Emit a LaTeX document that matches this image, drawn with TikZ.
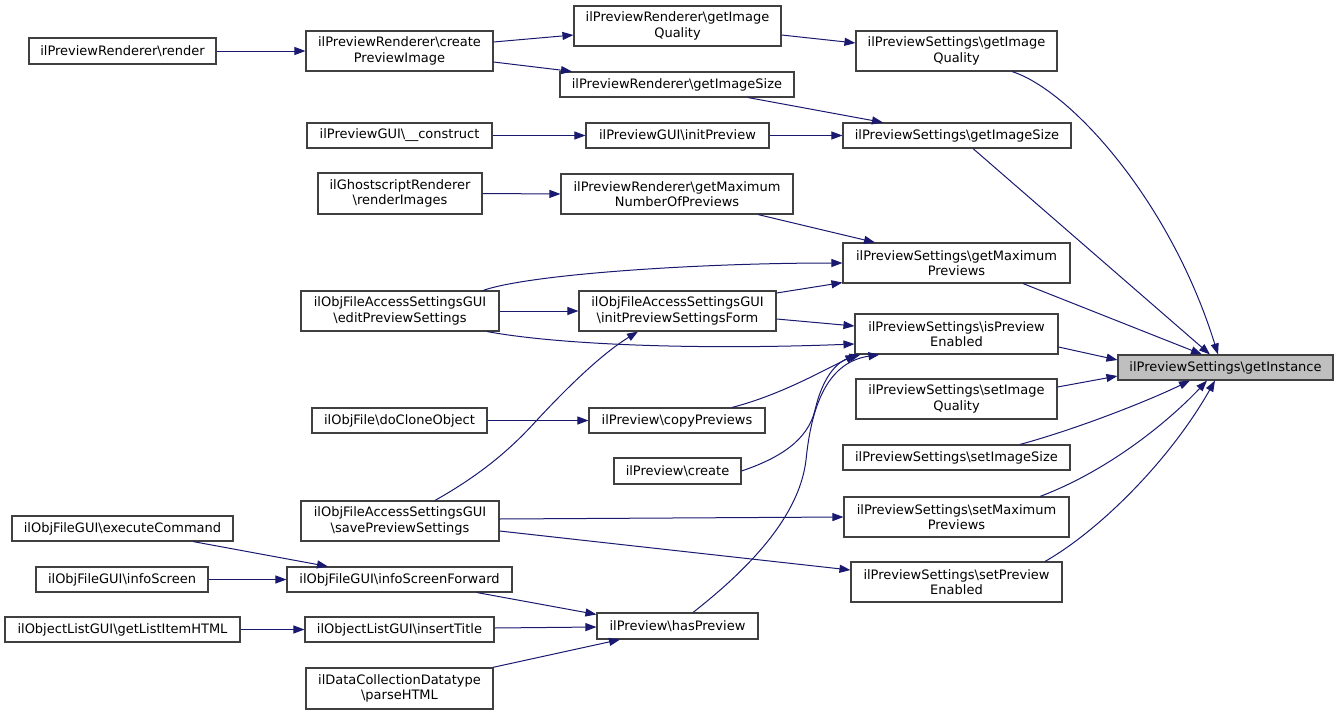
\documentclass[tikz,border=0pt]{standalone}
\usepackage{fontspec}
\setmainfont{DejaVu Sans}
\usetikzlibrary{arrows.meta}
\definecolor{edgecol}{HTML}{191970}
\definecolor{boxcol}{HTML}{404040}
\definecolor{hlfill}{HTML}{BFBFBF}
\begin{document}
\begin{tikzpicture}[x=1pt,y=-1pt,
  box/.style={draw=boxcol,line width=1.1pt,fill=white,inner sep=0pt,align=center,
    font=\fontsize{13}{15.2}\selectfont,text=black},
  hl/.style={box,fill=hlfill},
  edge/.style={draw=edgecol,line width=1pt,-{Triangle[length=11pt,width=8pt]}}]
\useasboundingbox (0,0) rectangle (1339,715);
% column 1
\node[box,minimum width=187pt,minimum height=26pt] (render) at (122.5,51) {ilPreviewRenderer\textbackslash render};
\node[box,minimum width=221pt,minimum height=25pt] (exec) at (122.5,528.5) {ilObjFileGUI\textbackslash executeCommand};
\node[box,minimum width=172pt,minimum height=25pt] (infos) at (122,579.5) {ilObjFileGUI\textbackslash infoScreen};
\node[box,minimum width=235pt,minimum height=25pt] (gli) at (122.5,629.5) {ilObjectListGUI\textbackslash getListItemHTML};
% column 2
\node[box,minimum width=187pt,minimum height=40pt] (cpi) at (399.5,51) {ilPreviewRenderer\textbackslash create\\PreviewImage};
\node[box,minimum width=185pt,minimum height=25pt] (construct) at (399.5,135.5) {ilPreviewGUI\textbackslash\_\_construct};
\node[box,minimum width=164pt,minimum height=41pt] (ghost) at (400,193.5) {ilGhostscriptRenderer\\\textbackslash renderImages};
\node[box,minimum width=198pt,minimum height=40pt] (edit) at (400,311) {ilObjFileAccessSettingsGUI\\\textbackslash editPreviewSettings};
\node[box,minimum width=175pt,minimum height=25pt] (clone) at (399.5,420.5) {ilObjFile\textbackslash doCloneObject};
\node[box,minimum width=198pt,minimum height=40pt] (save) at (400,521) {ilObjFileAccessSettingsGUI\\\textbackslash savePreviewSettings};
\node[box,minimum width=225pt,minimum height=25pt] (isf) at (399.5,579.5) {ilObjFileGUI\textbackslash infoScreenForward};
\node[box,minimum width=189pt,minimum height=25pt] (ins) at (399.5,629.5) {ilObjectListGUI\textbackslash insertTitle};
\node[box,minimum width=187pt,minimum height=41pt] (parse) at (399.5,688.5) {ilDataCollectionDatatype\\\textbackslash parseHTML};
% column 3
\node[box,minimum width=207pt,minimum height=40pt] (rgiq) at (677.5,26) {ilPreviewRenderer\textbackslash getImage\\Quality};
\node[box,minimum width=234pt,minimum height=25pt] (rgis) at (677,84.5) {ilPreviewRenderer\textbackslash getImageSize};
\node[box,minimum width=183pt,minimum height=25pt] (initprev) at (677.5,135.5) {ilPreviewGUI\textbackslash initPreview};
\node[box,minimum width=232pt,minimum height=40pt] (rgmax) at (677,194) {ilPreviewRenderer\textbackslash getMaximum\\NumberOfPreviews};
\node[box,minimum width=197pt,minimum height=40pt] (initform) at (677.5,311) {ilObjFileAccessSettingsGUI\\\textbackslash initPreviewSettingsForm};
\node[box,minimum width=176pt,minimum height=25pt] (copy) at (677,420.5) {ilPreview\textbackslash copyPreviews};
\node[box,minimum width=127pt,minimum height=26pt] (create) at (677.5,471) {ilPreview\textbackslash create};
\node[box,minimum width=161pt,minimum height=26pt] (has) at (677.5,626) {ilPreview\textbackslash hasPreview};
% column 4
\node[box,minimum width=201pt,minimum height=40pt] (sgiq) at (956.5,51) {ilPreviewSettings\textbackslash getImage\\Quality};
\node[box,minimum width=228pt,minimum height=25pt] (sgis) at (957,135.5) {ilPreviewSettings\textbackslash getImageSize};
\node[box,minimum width=227pt,minimum height=40pt] (sgmax) at (956.5,263) {ilPreviewSettings\textbackslash getMaximum\\Previews};
\node[box,minimum width=203pt,minimum height=40pt] (isen) at (956.5,334) {ilPreviewSettings\textbackslash isPreview\\Enabled};
\node[box,minimum width=201pt,minimum height=40pt] (siq) at (956.5,399) {ilPreviewSettings\textbackslash setImage\\Quality};
\node[box,minimum width=227pt,minimum height=25pt] (sis) at (956.5,457.5) {ilPreviewSettings\textbackslash setImageSize};
\node[box,minimum width=225pt,minimum height=40pt] (smax) at (956.5,517) {ilPreviewSettings\textbackslash setMaximum\\Previews};
\node[box,minimum width=211pt,minimum height=40pt] (sen) at (956.5,582) {ilPreviewSettings\textbackslash setPreview\\Enabled};
% column 5
\node[hl,minimum width=215pt,minimum height=25pt] (inst) at (1225.5,367.5) {ilPreviewSettings\textbackslash getInstance};
% edges
\draw[edge] (render.east) -- (cpi.west);
\draw[edge] ([shift={(0,-9)}]cpi.east) -- ([shift={(0,9)}]rgiq.west);
\draw[edge] ([shift={(0,11)}]cpi.east) -- ([shift={(-105,0)}]rgis.north);
\draw[edge] ([shift={(0,9)}]rgiq.east) -- ([shift={(0,-8)}]sgiq.west);
\draw[edge] ([shift={(71,0)}]rgis.south) -- ([shift={(-74,0)}]sgis.north);
\draw[edge] (construct.east) -- (initprev.west);
\draw[edge] (initprev.east) -- (sgis.west);
\draw[edge] (ghost.east) -- (rgmax.west);
\draw[edge] ([shift={(81,0)}]rgmax.south) -- ([shift={(-81.5,0)}]sgmax.north);
\draw[edge] ([shift={(83,0)}]edit.north) .. controls (530,274) and (700,263) .. (sgmax.west);
\draw[edge] (edit.east) -- (initform.west);
\draw[edge] ([shift={(87,0)}]edit.south) .. controls (560,345) and (700,350) .. ([shift={(0,10)}]isen.west);
\draw[edge] ([shift={(0,-18)}]initform.east) -- ([shift={(0,-1)}]sgmax.south west);
\draw[edge] ([shift={(0,8)}]initform.east) -- ([shift={(0,-8)}]isen.west);
\draw[edge] ([shift={(35,0)}]save.north) .. controls (480,475) and (510,450) .. (537,420) .. controls (565,390) and (600,355) .. ([shift={(-39.5,0)}]initform.south);
\draw[edge] (clone.east) -- (copy.west);
\draw[edge] ([shift={(55,0)}]copy.north) .. controls (780,395) and (820,372) .. ([shift={(2,0)}]isen.south west);
\draw[edge] (create.east) .. controls (780,458) and (808,440) .. (815,410) .. controls (822,380) and (835,362) .. ([shift={(6,0)}]isen.south west);
\draw[edge] ([shift={(15.5,0)}]has.north) .. controls (760,560) and (800,510) .. (806,460) .. controls (812,400) and (830,362) .. ([shift={(25,0)}]isen.south west);
\draw[edge] ([shift={(0,-2)}]save.east) -- (smax.west);
\draw[edge] ([shift={(0,10)}]save.east) -- ([shift={(0,-12)}]sen.west);
\draw[edge] ([shift={(70.5,0)}]exec.south) -- ([shift={(-71.5,0)}]isf.north);
\draw[edge] (infos.east) -- (isf.west);
\draw[edge] ([shift={(77.5,0)}]isf.south) -- ([shift={(0,2)}]has.north west);
\draw[edge] (gli.east) -- (ins.west);
\draw[edge] ([shift={(0,-1.5)}]ins.east) -- ([shift={(0,1)}]has.west);
\draw[edge] ([shift={(-1,0)}]parse.north east) -- ([shift={(-57.5,0)}]has.south);
% edges into getInstance
\draw[edge] ([shift={(55.5,0)}]sgiq.south) .. controls (1070,90) and (1170,200) .. ([shift={(-7.5,0)}]inst.north);
\draw[edge] ([shift={(16,0)}]sgis.south) -- ([shift={(-15.5,0)}]inst.north);
\draw[edge] ([shift={(66.5,0)}]sgmax.south) -- ([shift={(-23.5,0)}]inst.north);
\draw[edge] ([shift={(0,13)}]isen.east) -- ([shift={(0,-7.5)}]inst.west);
\draw[edge] ([shift={(0,-12)}]siq.east) -- ([shift={(0,8.5)}]inst.west);
\draw[edge] ([shift={(63.5,0)}]sis.north) .. controls (1080,428) and (1150,400) .. ([shift={(-35.5,0)}]inst.south);
\draw[edge] ([shift={(83.5,0)}]smax.north) .. controls (1110,470) and (1170,420) .. ([shift={(-18.5,0)}]inst.south);
\draw[edge] ([shift={(88.5,0)}]sen.north) .. controls (1100,530) and (1170,460) .. ([shift={(-10.5,0)}]inst.south);
\end{tikzpicture}
\end{document}
